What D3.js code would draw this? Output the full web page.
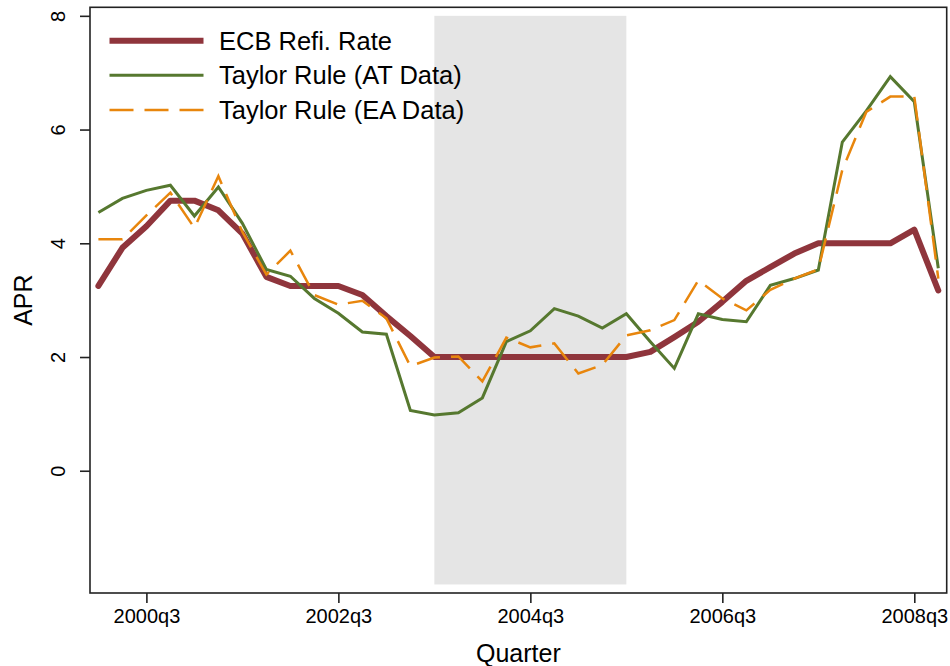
<!DOCTYPE html>
<html>
<head>
<meta charset="utf-8">
<script src="https://cdn.jsdelivr.net/npm/d3@7"></script>
<style>
  html, body { margin: 0; padding: 0; background: #fff; }
  svg { display: block; font-family: "Liberation Sans", Arial, Helvetica, sans-serif; }
</style>
</head>
<body>
<svg id="chart" width="950" height="666"></svg>
<script>
// ---- Data ----
const quarters = [
  "2000q1","2000q2","2000q3","2000q4","2001q1","2001q2","2001q3","2001q4",
  "2002q1","2002q2","2002q3","2002q4","2003q1","2003q2","2003q3","2003q4",
  "2004q1","2004q2","2004q3","2004q4","2005q1","2005q2","2005q3","2005q4",
  "2006q1","2006q2","2006q3","2006q4","2007q1","2007q2","2007q3","2007q4",
  "2008q1","2008q2","2008q3","2008q4"
];
const ecbRate = [
  3.25,3.92,4.30,4.75,4.75,4.58,4.17,3.41,3.25,3.25,3.25,3.09,2.72,2.37,2.00,2.00,
  2.00,2.00,2.00,2.00,2.00,2.00,2.00,2.09,2.35,2.62,2.97,3.34,3.58,3.82,4.00,4.00,
  4.00,4.00,4.24,3.17
];
const taylorAT = [
  4.54,4.79,4.93,5.02,4.48,4.99,4.35,3.54,3.42,3.03,2.77,2.44,2.40,1.06,0.98,1.02,
  1.28,2.27,2.46,2.85,2.72,2.51,2.76,2.27,1.80,2.76,2.66,2.62,3.26,3.38,3.53,5.78,
  6.33,6.93,6.49,3.56
];
const taylorEA = [
  4.07,4.07,4.49,4.89,4.27,5.18,4.20,3.45,3.87,3.09,2.92,2.99,2.68,1.84,1.99,2.01,
  1.57,2.34,2.17,2.24,1.71,1.86,2.38,2.47,2.65,3.35,3.03,2.82,3.18,3.38,3.54,5.29,
  6.31,6.58,6.58,3.38
];
const xTickLabels = ["2000q3","2002q3","2004q3","2006q3","2008q3"];
const yTickValues = [0, 2, 4, 6, 8];
const shadeStart = "2003q3";
const shadeEnd = "2005q3";
const shadeRange = [-2, 8];
const seriesNames = ["ECB Refi. Rate", "Taylor Rule (AT Data)", "Taylor Rule (EA Data)"];

// ---- Layout ----
const svg = d3.select("#chart");
const pLeft = 90, pRight = 946.7, pTop = 7.3, pBottom = 593;

const x = d3.scaleLinear().domain([-0.35, quarters.length - 1 + 0.35]).range([pLeft, pRight]);
const y = d3.scaleLinear().domain([-2.15, 8.15]).range([pBottom, pTop]);

const styles = [
  { data: ecbRate, color: "#8f353c", width: 6, dash: null, cap: "round", join: "round" },
  { data: taylorAT, color: "#56782f", width: 3, dash: null, cap: "butt", join: "miter" },
  { data: taylorEA, color: "#e8860d", width: 2.5, dash: "24,11", cap: "butt", join: "miter" }
];

// shaded period
const qi = q => quarters.indexOf(q);
svg.append("rect")
  .attr("x", x(qi(shadeStart)))
  .attr("y", y(shadeRange[1]))
  .attr("width", x(qi(shadeEnd)) - x(qi(shadeStart)))
  .attr("height", y(shadeRange[0]) - y(shadeRange[1]))
  .attr("fill", "#e5e5e5");

// lines
const line = d3.line().x((d, i) => x(i)).y(d => y(d));
styles.forEach(s => {
  svg.append("path")
    .datum(s.data)
    .attr("d", line)
    .attr("fill", "none")
    .attr("stroke", s.color)
    .attr("stroke-width", s.width)
    .attr("stroke-linecap", s.cap)
    .attr("stroke-linejoin", s.join)
    .attr("stroke-dasharray", s.dash);
});

// frame
svg.append("rect")
  .attr("x", pLeft).attr("y", pTop)
  .attr("width", pRight - pLeft).attr("height", pBottom - pTop)
  .attr("fill", "none").attr("stroke", "#222").attr("stroke-width", 1.6);

// x axis
const xAxis = d3.axisBottom(x)
  .tickValues(xTickLabels.map(qi))
  .tickFormat(i => quarters[i])
  .tickSize(10).tickPadding(6);
const gx = svg.append("g").attr("transform", `translate(0,${pBottom})`).call(xAxis);
gx.select(".domain").remove();
gx.selectAll(".tick line").attr("stroke", "#222").attr("stroke-width", 1.6);
gx.selectAll(".tick text").attr("font-size", 20).attr("fill", "#000")
  .attr("font-family", "Liberation Sans, Arial, sans-serif");

// y axis
const yAxis = d3.axisLeft(y).tickValues(yTickValues).tickSize(10).tickPadding(0).tickFormat(d3.format("d"));
const gy = svg.append("g").attr("transform", `translate(${pLeft},0)`).call(yAxis);
gy.select(".domain").remove();
gy.selectAll(".tick line").attr("stroke", "#222").attr("stroke-width", 1.6);
gy.selectAll(".tick text")
  .attr("font-size", 20).attr("fill", "#000")
  .attr("font-family", "Liberation Sans, Arial, sans-serif")
  .attr("x", null).attr("dy", null)
  .attr("text-anchor", "middle")
  .attr("transform", "translate(-25,0) rotate(-90)");

// axis titles
svg.append("text")
  .attr("x", (pLeft + pRight) / 2).attr("y", 661.5)
  .attr("text-anchor", "middle").attr("font-size", 25).attr("fill", "#000")
  .text("Quarter");
svg.append("text")
  .attr("transform", `translate(31.5,${(pTop + pBottom) / 2}) rotate(-90)`)
  .attr("text-anchor", "middle").attr("font-size", 25).attr("fill", "#000")
  .text("APR");

// legend
const legendY = d3.scalePoint().domain(seriesNames).range([40.7, 110]);
const lg = svg.append("g");
seriesNames.forEach((name, k) => {
  const s = styles[k];
  const yy = legendY(name);
  lg.append("line")
    .attr("x1", 109.5).attr("x2", 203.5).attr("y1", yy).attr("y2", yy)
    .attr("stroke", s.color).attr("stroke-width", s.width)
    .attr("stroke-dasharray", s.dash);
  lg.append("text")
    .attr("x", 219).attr("y", yy + 9)
    .attr("font-size", 25.5).attr("fill", "#000")
    .text(name);
});
</script>
</body>
</html>
